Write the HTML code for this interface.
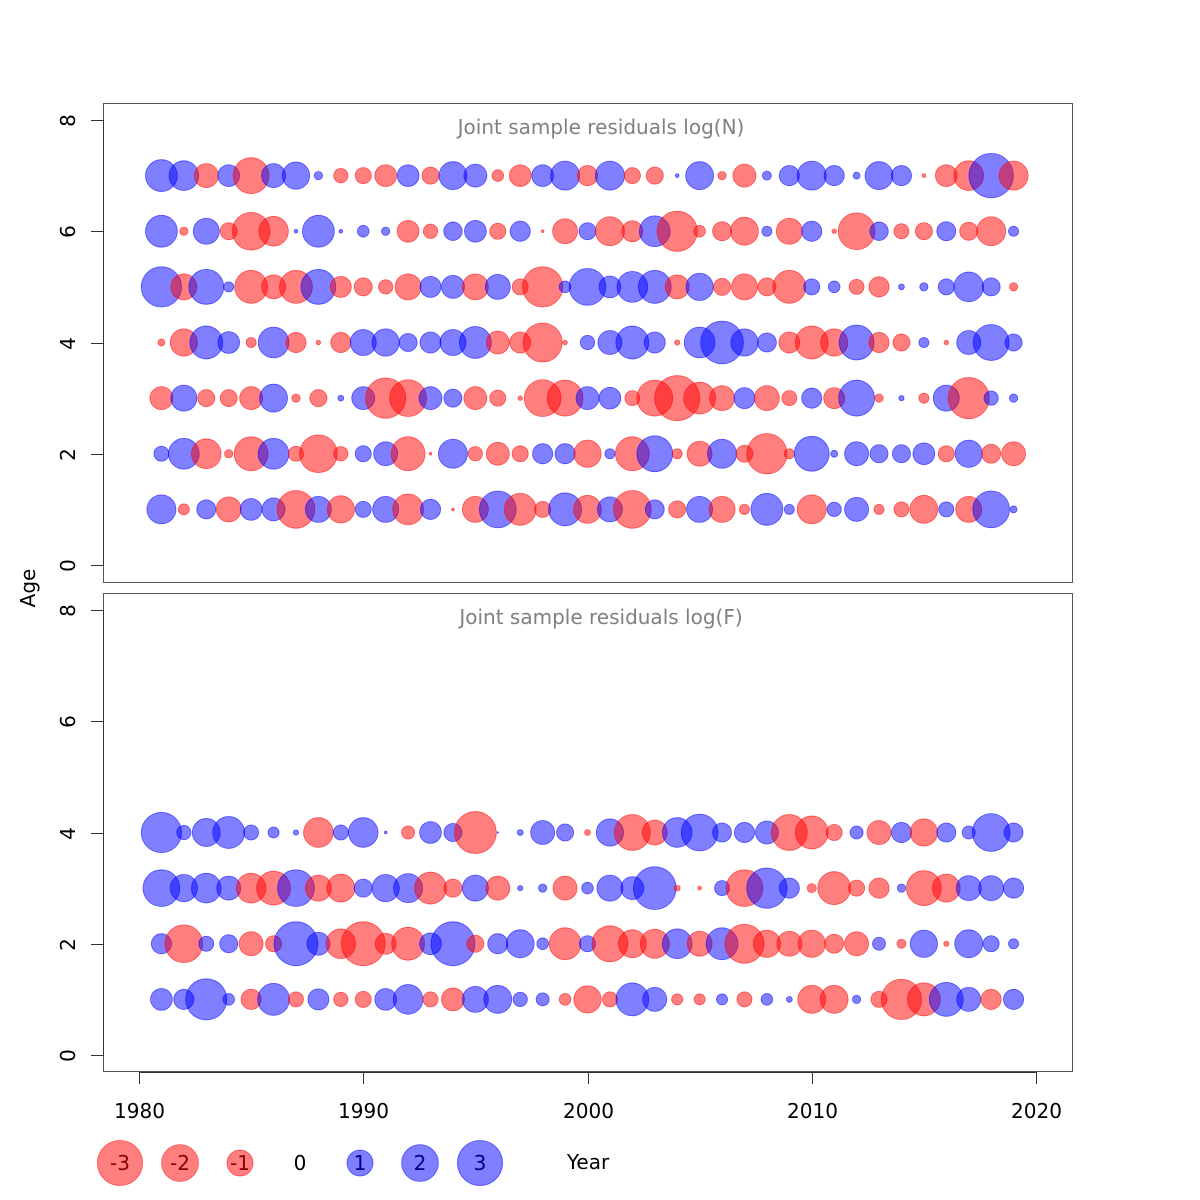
<!DOCTYPE html>
<html><head><meta charset="utf-8"><style>
html,body{margin:0;padding:0;background:#fff;}
svg{display:block;font-family:"DejaVu Sans","Liberation Sans",sans-serif;}
</style></head><body>
<svg id="chart" width="1200" height="1200" viewBox="0 0 1200 1200"></svg>
<script>
// ---- data ----
const years = [1981,1982,1983,1984,1985,1986,1987,1988,1989,1990,1991,1992,1993,1994,1995,1996,1997,1998,1999,2000,2001,2002,2003,2004,2005,2006,2007,2008,2009,2010,2011,2012,2013,2014,2015,2016,2017,2018,2019];
const xTicks = [1980,1990,2000,2010,2020];
const yTicks = [0,2,4,6,8];
const legendValues = [-3,-2,-1,0,1,2,3];
// top panel log(N) residuals, ages 1..7
const nAge1 = [1.25,-0.18,0.53,-0.92,0.7,0.78,-2.1,1.0,-1.1,0.38,1.0,-1.4,0.6,-0.01,-1.0,2.0,-1.5,-0.38,1.6,-1.15,0.92,-2.1,0.53,-0.43,1.0,-1.0,-0.15,1.5,0.15,-1.25,0.3,0.85,-0.15,-0.33,-1.15,0.33,-1.0,2.0,0.07];
const nAge2 = [0.33,1.4,-1.3,-0.1,-1.7,1.4,-0.33,-2.1,-0.3,0.38,0.85,-1.7,-0.01,1.25,-0.3,-0.78,-0.38,0.6,0.6,-1.1,0.15,-1.7,1.9,-0.15,-0.92,1.25,-0.43,-2.4,-0.15,1.8,0.07,0.85,0.48,0.48,0.7,-0.38,1.1,-0.53,-0.85];
const nAge3 = [-0.78,1.0,-0.43,-0.43,-0.78,1.15,-0.1,-0.43,0.05,0.78,-2.4,-2.0,0.78,0.48,-0.78,-0.38,-0.03,-2.0,-1.9,0.78,0.7,-0.33,-1.9,-3.0,-1.5,-0.92,0.65,-0.92,-0.33,0.6,-0.65,1.9,-0.1,0.04,-0.15,1.0,-2.5,0.3,0.1];
const nAge4 = [-0.07,-1.1,1.6,0.7,-0.15,1.4,-0.6,-0.03,-0.6,1.0,1.1,0.48,0.65,1.0,1.5,-0.78,-0.65,-2.25,-0.03,0.3,0.85,1.6,0.65,-0.04,1.4,2.7,1.1,0.53,-0.65,-1.6,-1.1,1.8,-0.6,-0.43,0.15,-0.03,0.85,1.9,0.43];
const nAge5 = [2.4,-1.0,1.8,0.15,-1.6,-0.85,-1.6,1.8,-0.65,-0.48,-0.3,-1.0,0.65,0.78,-1.0,0.92,-0.38,-2.4,0.2,2.0,0.7,1.4,1.6,-0.85,1.1,-0.43,-1.0,-0.48,-1.6,0.38,0.2,-0.33,-0.6,0.05,0.1,0.38,1.3,0.48,-0.1];
const nAge6 = [1.5,-0.1,1.0,-0.43,-2.1,-1.3,0.02,1.5,0.02,0.2,0.1,-0.7,-0.3,0.5,0.7,-0.38,0.6,-0.01,-0.92,0.43,-1.25,-0.65,1.4,-2.4,-0.2,-0.53,-1.15,0.15,-1.0,0.6,-0.03,-2.0,0.5,-0.33,-0.43,0.53,-0.48,-1.25,0.15];
const nAge7 = [1.5,1.3,-0.85,0.7,-1.9,0.85,1.1,0.1,-0.3,-0.38,-0.7,0.7,-0.43,1.15,0.78,-0.2,-0.7,0.7,1.25,-0.6,1.25,-0.38,-0.43,0.02,1.15,-0.1,-0.78,0.12,0.6,1.25,0.6,0.07,1.15,0.6,-0.02,-0.7,-1.3,2.9,-1.25];
// bottom panel log(F) residuals, ages 1..4
const fAge1 = [0.7,0.6,2.5,0.2,-0.6,1.5,-0.33,0.65,-0.3,-0.38,0.7,1.3,-0.33,-0.78,1.0,1.15,0.3,0.25,-0.2,-1.1,-0.33,1.6,0.85,-0.18,-0.18,0.18,-0.33,0.2,0.05,-1.15,-1.15,0.1,-0.38,-2.4,-1.6,1.7,0.85,-0.6,0.6];
const fAge2 = [0.6,-2.1,0.33,0.48,-0.85,-0.38,2.85,0.78,-1.3,-2.85,-0.65,-1.6,0.7,2.85,-0.43,0.6,1.15,0.2,-1.5,0.38,-1.9,-1.15,-1.25,1.3,-0.92,1.5,-2.25,-1.1,-0.92,-1.1,-0.53,-0.85,0.25,-0.12,1.1,-0.04,1.15,0.38,0.15];
const fAge3 = [2.0,1.1,1.3,0.85,-1.3,-1.7,2.0,-1.0,-1.15,0.48,1.1,1.25,-1.5,-0.48,1.0,-0.85,0.04,0.1,-0.85,0.2,1.0,0.78,2.7,-0.05,-0.02,0.33,-2.0,2.4,0.6,-0.12,-1.6,-0.38,-0.6,0.1,-1.8,-1.15,0.92,0.92,0.6];
const fAge4 = [2.4,0.3,1.15,1.5,0.33,0.18,0.04,-1.3,0.33,1.3,0.01,-0.25,0.7,0.48,-2.6,0.003,0.05,0.85,0.43,-0.05,1.1,-1.9,-0.92,1.3,2.0,0.53,0.6,0.78,-1.9,-1.6,-0.38,0.25,-0.85,0.6,-1.1,0.53,0.25,2.1,0.53];
const topRows = [nAge1,nAge2,nAge3,nAge4,nAge5,nAge6,nAge7];
const botRows = [fAge1,fAge2,fAge3,fAge4];

// ---- geometry ----
const NS = "http://www.w3.org/2000/svg";
const svg = document.getElementById('chart');
const xScale = y => 139 + (y - 1980) * (1036 - 139) / 40;
const yTop = a => 565 - a * (565 - 120) / 8;
const yBot = a => 1055 - a * (1055 - 610) / 8;
const rScale = v => 13 * Math.sqrt(Math.abs(v));
function mk(tag, attrs, parent) {
  const e = document.createElementNS(NS, tag);
  for (const k in attrs) e.setAttribute(k, attrs[k]);
  (parent || svg).appendChild(e);
  return e;
}
function txt(s, attrs, parent) { const t = mk('text', attrs, parent); t.textContent = s; return t; }

function panel(name, top, bottom, yS, rows, title) {
  const g = mk('g', {});
  
  
  const box = mk('rect', {x:103.5, y:top+0.5, width:969, height:bottom-top, fill:'none', stroke:'#555', 'stroke-width':1}, g);
  
  
  const ax = mk('g', {}, g);
  
  
  mk('line', {x1:103.5, x2:103.5, y1:yS(0), y2:yS(8), stroke:'#333'}, ax);
  yTicks.forEach(t => {
    const yy = Math.round(yS(t)) + 0.5;
    mk('line', {x1:91, x2:103.5, y1:yy, y2:yy, stroke:'#333'}, ax);
    const l = txt(String(t), {x:0, y:0, 'font-size':20, fill:'#000', 'text-anchor':'middle', transform:`translate(75,${yy}) rotate(-90)`}, ax);
    
    
  });
  const tt = txt(title, {x:601, y:top+31, 'font-size':20, fill:'#808080', 'text-anchor':'middle'}, g);
  
  
  rows.forEach((row, i) => {
    const age = i + 1;
    row.forEach((v, j) => {
      const r = rScale(v);
      if (r < 0.5) return;
      const c = mk('circle', {cx:xScale(years[j]), cy:yS(age), r:r,
        fill: v < 0 ? 'rgba(255,0,0,0.5)' : 'rgba(0,0,255,0.5)',
        stroke: v < 0 ? 'rgba(255,0,0,0.6)' : 'rgba(0,0,255,0.6)', 'stroke-width':0.8}, g);
      
      
    });
  });
}
panel('log-n', 103, 582, yTop, topRows, 'Joint sample residuals log(N)');
panel('log-f', 593, 1071, yBot, botRows, 'Joint sample residuals log(F)');

// x axis
const xa = mk('g', {});


mk('line', {x1:xScale(1980), x2:xScale(2020), y1:1072.5, y2:1072.5, stroke:'#333'}, xa);
xTicks.forEach(t => {
  const xx = Math.round(xScale(t)) + 0.5;
  mk('line', {x1:xx, x2:xx, y1:1072, y2:1084, stroke:'#333'}, xa);
  const l = txt(String(t), {x:xx, y:1118, 'font-size':20, 'text-anchor':'middle', fill:'#000'}, xa);
  
  
});
const ageLbl = txt('Age', {x:0, y:0, 'font-size':20, 'text-anchor':'middle', transform:'translate(35,588) rotate(-90)'});



// legend
const lg = mk('g', {});


legendValues.forEach((v, i) => {
  const cx = 120 + i * 60, cy = 1163;
  const e = mk('g', {}, lg);
  
  
  if (v !== 0) mk('circle', {cx:cx, cy:cy, r:rScale(v), fill: v < 0 ? 'rgba(255,0,0,0.5)' : 'rgba(0,0,255,0.5)', stroke: v < 0 ? 'rgba(255,0,0,0.6)' : 'rgba(0,0,255,0.6)', 'stroke-width':0.8}, e);
  txt(String(v), {x:cx, y:cy+7, 'font-size':20, 'text-anchor':'middle', fill: v < 0 ? '#8b0000' : (v > 0 ? '#00008b' : '#000')}, e);
});
const yr = txt('Year', {x:588, y:1169, 'font-size':20, 'text-anchor':'middle', fill:'#000'});


</script>
</body></html>
